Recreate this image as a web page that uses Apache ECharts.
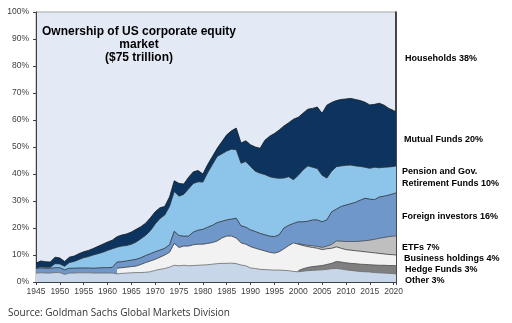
<!DOCTYPE html>
<html>
<head>
<meta charset="utf-8">
<script src="https://cdn.jsdelivr.net/npm/echarts@6/dist/echarts.min.js"></script>
<style>
  html, body { margin: 0; padding: 0; background: #ffffff; }
  #chart { width: 512px; height: 323px; }
</style>
</head>
<body>
<div id="chart"></div>
<script>
// Share of US corporate equity held by each owner group, % of market value.
const years = [
  1945, 1946, 1947, 1948, 1949, 1950, 1951, 1952, 1953, 1954,
  1955, 1956, 1957, 1958, 1959, 1960, 1961, 1962, 1963, 1964,
  1965, 1966, 1967, 1968, 1969, 1970, 1971, 1972, 1973, 1974,
  1975, 1976, 1977, 1978, 1979, 1980, 1981, 1982, 1983, 1984,
  1985, 1986, 1987, 1988, 1989, 1990, 1991, 1992, 1993, 1994,
  1995, 1996, 1997, 1998, 1999, 2000, 2001, 2002, 2003, 2004,
  2005, 2006, 2007, 2008, 2009, 2010, 2011, 2012, 2013, 2014,
  2015, 2016, 2017, 2018, 2019, 2020, 2020.5
];

const other = [
  3.3, 3.4, 3.3, 3.3, 3.5, 3.5, 2.8, 3.3, 3.3, 3.4,
  3.4, 3.4, 3.3, 3.3, 3.3, 3.3, 3.3, 3.0, 3.2, 3.3,
  3.4, 3.5, 3.5, 3.6, 3.8, 4.3, 4.7, 5.0, 5.5, 6.2,
  6.0, 6.2, 6.0, 6.1, 6.2, 6.3, 6.4, 6.6, 6.8, 6.9,
  6.9, 7.0, 6.8, 6.3, 6.0, 5.2, 5.0, 4.7, 4.6, 4.5,
  4.4, 4.4, 4.3, 4.2, 3.9, 3.8, 4.0, 4.2, 4.3, 4.4,
  4.5, 4.7, 4.9, 5.0, 4.8, 4.5, 4.3, 4.1, 3.9, 3.8,
  3.7, 3.5, 3.4, 3.3, 3.2, 3.1, 3
];

// Hedge funds and ETFs are reported from 2000 on
const hedgeFundsFrom = 2000;
const hedgeFunds = [
  0.4, 0.9, 1.2, 1.4, 1.5, 1.6, 1.8, 2.0, 2.6, 2.6,
  2.6, 2.6, 2.7, 2.7, 2.7, 2.7, 2.8, 2.8, 2.9, 2.9,
  3.0, 3
];

// Business holdings are reported from 1962 on
const businessFrom = 1962;
const business = [
  2.1, 2.1, 2.2, 2.3, 2.4, 3.0, 3.6, 4.0, 4.1, 4.5,
  5.0, 5.5, 8.1, 6.8, 7.1, 7.3, 7.7, 7.8, 7.7, 7.9,
  8.0, 8.4, 9.4, 10.1, 10.0, 9.5, 8.2, 8.0, 7.9, 7.5,
  7.3, 6.9, 6.5, 6.3, 6.8, 8.0, 9.3, 10.6, 9.8, 8.6,
  7.7, 7.1, 6.6, 5.9, 5.8, 5.6, 5.4, 5.1, 4.9, 4.9,
  4.8, 4.8, 4.7, 4.6, 4.5, 4.4, 4.2, 4.1, 4.0, 4
];

const etfsFrom = 2000;
const etfs = [
  0.2, 0.4, 0.5, 0.6, 0.7, 0.8, 1.0, 1.4, 2.2, 2.6,
  3.0, 3.2, 3.4, 3.7, 4.1, 4.5, 5.0, 5.6, 6.1, 6.6,
  6.9, 7
];

const foreign = [
  1.7, 1.8, 1.8, 1.8, 1.8, 1.8, 1.7, 1.8, 1.8, 1.8,
  1.8, 1.8, 1.8, 1.9, 2.0, 2.0, 2.1, 2.3, 2.2, 2.3,
  2.4, 2.5, 2.5, 2.6, 2.7, 2.8, 2.6, 2.5, 2.8, 4.5,
  4.4, 3.7, 3.7, 4.7, 5.2, 5.5, 6.0, 6.4, 6.8, 6.2,
  6.0, 6.3, 7.3, 6.3, 6.3, 6.2, 6.2, 6.0, 6.0, 6.0,
  6.1, 6.3, 7.7, 7.5, 7.2, 8.1, 8.4, 8.9, 9.6, 9.8,
  9.5, 9.7, 12.1, 11.8, 12.9, 13.5, 14.0, 14.5, 15.2, 15.7,
  15.2, 14.7, 15.3, 15.3, 15.4, 15.7, 16
];

const pension = [
  0.3, 0.4, 0.4, 0.4, 1.5, 1.4, 1.3, 2.1, 2.5, 3.1,
  3.8, 4.2, 4.9, 5.3, 5.7, 6.4, 6.9, 5.5, 5.8, 5.7,
  5.9, 6.4, 7.0, 7.5, 8.5, 10.3, 11.7, 12.3, 14.2, 14.7,
  14.6, 15.5, 17.5, 18.0, 17.9, 17.5, 20.2, 22.5, 24.5, 25.0,
  25.5, 25.9, 25.4, 23.2, 24.3, 23.5, 22.3, 22.3, 22.3, 22.0,
  21.8, 20.9, 18.5, 18.0, 16.2, 17.2, 19.2, 20.5, 19.5, 19.0,
  17.2, 15.5, 15.0, 15.7, 15.0, 14.7, 14.3, 13.5, 12.5, 11.5,
  11.4, 12.0, 10.8, 10.7, 10.4, 10.1, 10
];

const mutualFunds = [
  1.7, 2.2, 2.0, 1.9, 2.4, 2.2, 1.8, 2.0, 2.0, 2.2,
  2.2, 2.3, 2.4, 2.7, 3.0, 3.1, 3.2, 3.9, 4.1, 4.3,
  4.5, 4.7, 4.5, 4.5, 4.8, 4.5, 4.0, 3.2, 3.5, 4.0,
  4.7, 3.8, 4.3, 4.3, 4.2, 3.0, 3.0, 3.0, 3.0, 4.5,
  6.0, 6.8, 8.0, 7.5, 7.7, 8.0, 9.0, 9.2, 12.7, 15.0,
  16.4, 17.9, 19.3, 20.0, 22.4, 21.5, 21.0, 21.0, 21.8, 22.8,
  23.0, 27.0, 25.5, 24.5, 24.6, 24.6, 24.7, 24.6, 24.4, 24.1,
  23.5, 23.3, 23.9, 23.0, 21.7, 20.7, 20
];

const sideLabels = [
  'Households 38%',
  'Mutual Funds 20%',
  'Pension and Gov.\nRetirement Funds 10%',
  'Foreign investors 16%',
  'ETFs 7%',
  'Business holdings 4%',
  'Hedge Funds 3%',
  'Other 3%'
];
const sideLabelPos = [
  [405, 59], [404, 140], [402, 178], [402, 217],
  [402, 248], [404, 259], [405, 270], [405, 281]
];

// Owner groups from the bottom of the pile to the top
const layers = [
  { name: 'Other', values: other, from: years[0], color: '#c8d6ea', line: '#6b6b6b' },
  { name: 'Hedge Funds', values: hedgeFunds, from: hedgeFundsFrom, color: '#7f7f7f', line: '#4a4a4a' },
  { name: 'Business holdings', values: business, from: businessFrom, color: '#f2f2f2', line: '#3a3a3a' },
  { name: 'ETFs', values: etfs, from: etfsFrom, color: '#bfbfbf', line: '#4a4a4a' },
  { name: 'Foreign investors', values: foreign, from: years[0], color: '#7097c9', line: '#2f2f2f' },
  { name: 'Pension and Gov. Retirement Funds', values: pension, from: years[0], color: '#8cc4ea', line: '#2f2f2f' },
  { name: 'Mutual Funds', values: mutualFunds, from: years[0], color: '#0c345f', line: '#101820' }
];

// Running top edge of each band; every band is filled down to the axis and the
// bands are painted top-down so each lower band covers the part below its edge.
const running = years.map(() => 0);
layers.forEach(l => {
  const offset = years.indexOf(l.from);
  l.points = [];
  years.forEach((y, i) => {
    if (i < offset) return;
    running[i] += l.values[i - offset];
    l.points.push([y, +running[i].toFixed(2)]);
  });
});

const FONT = 'Liberation Sans, Arial, sans-serif';
const chart = echarts.init(document.getElementById('chart'), null, { renderer: 'canvas' });

chart.setOption({
  animation: false,
  backgroundColor: '#ffffff',
  title: {
    text: 'Ownership of US corporate equity\nmarket\n($75 trillion)',
    left: 134,
    top: 20,
    textAlign: 'center',
    textStyle: { fontFamily: FONT, fontSize: 12, fontWeight: 'bold', lineHeight: 13, color: '#000000' }
  },
  grid: {
    left: 36, right: 116, top: 12, bottom: 41,
    show: true, backgroundColor: '#e4eaf5', borderColor: '#a6a6a6', borderWidth: 1
  },
  xAxis: {
    type: 'value',
    min: 1945, max: 2020.5, interval: 5,
    axisLine: { lineStyle: { color: '#404040', width: 1 } },
    axisTick: { show: true, length: 3, lineStyle: { color: '#404040' } },
    axisLabel: {
      fontFamily: FONT, fontSize: 8.5, color: '#404040', margin: 5,
      formatter: v => (v % 5 === 0 ? String(v) : '')
    },
    splitLine: { show: false }
  },
  yAxis: [
    {
      type: 'value', min: 0, max: 100, interval: 10,
      axisLine: { show: true, lineStyle: { color: '#404040', width: 1 } },
      axisTick: { show: true, length: 3, lineStyle: { color: '#404040' } },
      axisLabel: { fontFamily: FONT, fontSize: 8.5, color: '#404040', margin: 7, formatter: '{value}%' },
      splitLine: { show: false }
    },
    {
      type: 'value', min: 0, max: 100, position: 'right',
      axisLine: { show: true, lineStyle: { color: '#1a1a1a', width: 1.5 } },
      axisTick: { show: false }, axisLabel: { show: false }, splitLine: { show: false }
    }
  ],
  series: layers.slice().reverse().map(l => ({
    name: l.name,
    type: 'line',
    data: l.points,
    symbol: 'none',
    silent: true,
    lineStyle: { color: l.line, width: 0.8 },
    areaStyle: { color: l.color, opacity: 1, origin: 'start' },
    emphasis: { disabled: true }
  })),
  graphic: sideLabels.map((t, i) => ({
    type: 'text',
    x: sideLabelPos[i][0],
    y: sideLabelPos[i][1],
    style: {
      text: t, fill: '#000000', font: 'bold 9px ' + FONT,
      verticalAlign: 'middle', lineHeight: 12
    }
  })).concat([{
    type: 'text', x: 8, y: 313,
    style: {
      text: 'Source: Goldman Sachs Global Markets Division',
      fill: '#333333', font: '10px "Open Sans", sans-serif', verticalAlign: 'middle'
    }
  }])
});
</script>
</body>
</html>
